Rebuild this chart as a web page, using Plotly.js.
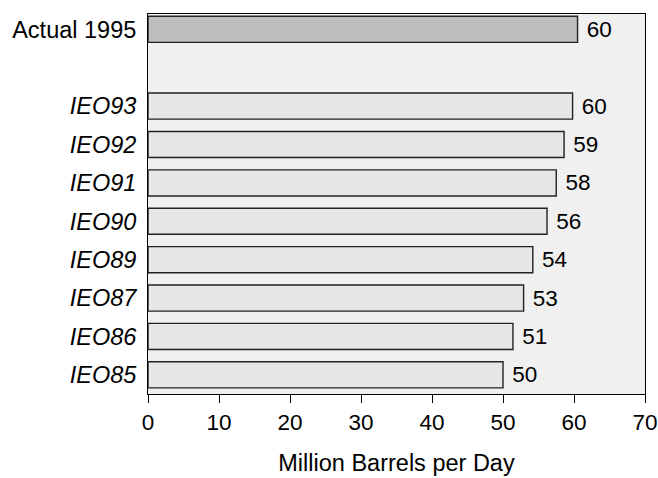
<!DOCTYPE html>
<html>
<head>
<meta charset="utf-8">
<script src="https://cdn.plot.ly/plotly-3.0.1.min.js"></script>
<style>html,body{margin:0;padding:0;background:#fff;}#chart{width:658px;height:478px;}</style>
</head>
<body>
<div id="chart"></div>
<script>
// Data (top to bottom as shown)
const categories = ["Actual 1995", "IEO93", "IEO92", "IEO91", "IEO90", "IEO89", "IEO87", "IEO86", "IEO85"];
const values = [60.5, 59.8, 58.6, 57.5, 56.2, 54.2, 52.9, 51.4, 50.0];
const valueLabels = ["60", "60", "59", "58", "56", "54", "53", "51", "50"];
const xTickVals = [0, 10, 20, 30, 40, 50, 60, 70];
const titleText = "Comparison of Projections";

// slot positions: Actual at top, one empty slot, then IEO rows
const slots = [9, 7, 6, 5, 4, 3, 2, 1, 0];
const barColors = categories.map((c, i) => i === 0 ? "#bdbdbd" : "#e6e6e6");
const tickText = categories.map((c, i) => i === 0 ? c : "<i>" + c + "</i>");

const trace = {
  type: "bar",
  orientation: "h",
  x: values,
  y: slots,
  width: 0.68,
  marker: { color: barColors, line: { color: "#222", width: 1.4 } },
  text: valueLabels.map(t => "\u00a0" + t),
  textposition: "outside",
  cliponaxis: false,
  textfont: { family: "Liberation Sans, Arial, sans-serif", size: 22.5, color: "#000" },
  hoverinfo: "none"
};

const layout = {
  width: 658, height: 478,
  margin: { l: 148, r: 13, t: 14, b: 84 },
  paper_bgcolor: "#ffffff",
  plot_bgcolor: "#f0f0f0",
  showlegend: false,
  font: { family: "Liberation Sans, Arial, sans-serif", size: 23, color: "#000" },
  xaxis: {
    range: [0, 70],
    tickvals: xTickVals,
    ticks: "outside", ticklen: 8, tickwidth: 1, tickcolor: "#000",
    showgrid: false, zeroline: false,
    showline: true, linecolor: "#000", linewidth: 1, mirror: true,
    tickfont: { size: 22.5 },
    title: { text: "Million Barrels per Day", font: { size: 23.5 }, standoff: 20 }
  },
  yaxis: {
    range: [-0.5, 9.4],
    tickvals: slots,
    ticktext: tickText,
    ticks: "", showgrid: false, zeroline: false,
    showline: true, linecolor: "#000", linewidth: 1, mirror: true,
    tickfont: { size: 23.5 },
    ticklabelstandoff: 6
  },
  annotations: [{
    text: "<b>" + titleText + "</b>",
    xref: "paper", yref: "paper",
    x: 0.225, y: 1, xanchor: "left", yanchor: "bottom", yshift: 15,
    showarrow: false,
    font: { size: 18, color: "#000" }
  }]
};

Plotly.newPlot("chart", [trace], layout, { staticPlot: true, displayModeBar: false });
</script>
</body>
</html>
